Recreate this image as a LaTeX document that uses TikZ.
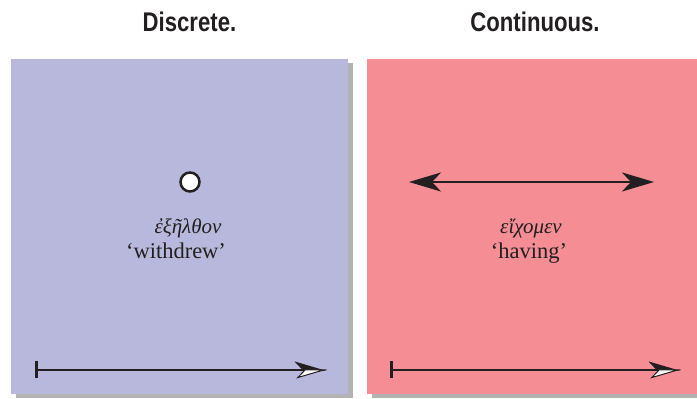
\documentclass[tikz,border=0pt]{standalone}
\usepackage{fontspec}
\setmainfont{Liberation Serif}
\newfontfamily\titlefont{Liberation Sans}[FakeStretch=0.82]
\usepackage{xcolor}
\usepackage{tikz}
\usetikzlibrary{arrows.meta,positioning,shadows}

\definecolor{discrete}{RGB}{184,184,220}
\definecolor{continuous}{RGB}{244,141,148}
\definecolor{ink}{RGB}{35,31,32}

\begin{document}
\begin{tikzpicture}[
    x=1pt, y=1pt,
    node distance=5mm,%设置node之间的距离
    panel/.style={
        % The shape:
        rectangle,
        minimum width=337pt,
        minimum height=335pt,
        inner sep=0pt,
        % The shadow
        drop shadow={shadow xshift=5pt, shadow yshift=-4pt, fill=black!50, opacity=.6}},
    heading/.style={
        inner sep=0pt,
        text=ink,
        font=\titlefont\bfseries\fontsize{27}{32}\selectfont},
    greek/.style={inner sep=0pt, text=ink, font=\itshape\fontsize{21}{25}\selectfont},
    gloss/.style={inner sep=0pt, text=ink, font=\fontsize{22.5}{27}\selectfont},
    instant/.style={circle, draw=ink, fill=white, line width=2.5pt, minimum size=19pt, inner sep=0pt},
    span/.style={draw=ink, line width=2.5pt,
        {Stealth[length=32pt,width=19pt,inset=9pt]}-{Stealth[length=32pt,width=19pt,inset=9pt]}},
    timeline/.style={draw=ink, line width=2pt,
        {Bar[width=17pt,line width=2.5pt]}-{Stealth[harpoon,length=29pt,width=17pt,inset=8pt]}},
    timeline tip/.style={draw=ink, line width=1pt,
        -{Stealth[harpoon,swap,fill=white,length=29pt,width=17pt,inset=8pt]}}]%两个面板
  \useasboundingbox (0,0) rectangle (697,399);
  \node (discrete box) [panel, fill=discrete] at (179.5,172.5) {};
  \node (continuous box) [panel, fill=continuous, minimum width=345pt, anchor=west] at (367,172) {};
  \node (discrete title) [heading, above=27pt of discrete box, xshift=10pt] {Discrete.};
  \node (continuous title) [heading, above=27pt of continuous box.north west, anchor=south, xshift=168pt] {Continuous.};
  % 离散
  \node (point) [instant] at (190,217) {};
  \node (exelthon) [greek, anchor=base] at (188,165) {ἐξῆλθον};
  \node (withdrew) [gloss, anchor=base] at (176,140) {‘withdrew’};
  \coordinate (past start) at (35,29);
  \coordinate (past end) at (327,29);
  \draw[timeline] (past start) -- (past end);
  \draw[timeline tip] (past start) -- (past end);
  % 连续
  \coordinate (span start) at (409,217);
  \coordinate (span end) at (654,217);
  \draw[span] (span start) -- (span end);
  \node (eichomen) [greek, anchor=base] at (531,165) {εἴχομεν};
  \node (having) [gloss, anchor=base] at (529,140) {‘having’};
  \coordinate (now start) at (390,29);
  \coordinate (now end) at (681,29);
  \draw[timeline] (now start) -- (now end);
  \draw[timeline tip] (now start) -- (now end);
\end{tikzpicture}
\end{document}
